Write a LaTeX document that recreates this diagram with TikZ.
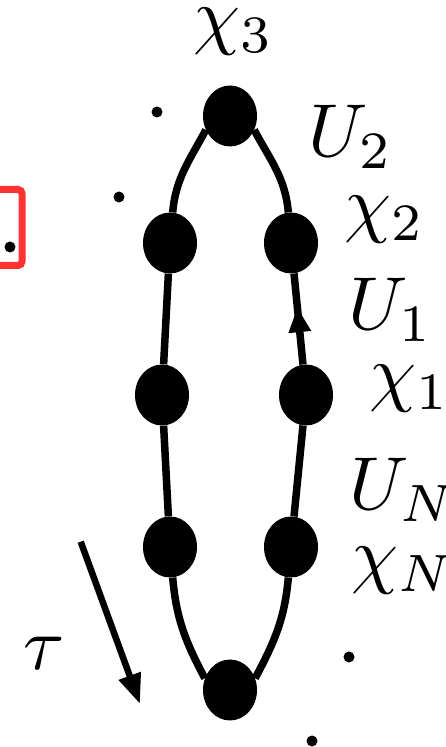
\documentclass[tikz,border=0pt]{standalone}
\usetikzlibrary{arrows.meta, positioning, shapes.geometric, decorations.markings}

\definecolor{hlred}{RGB}{255,50,50}

\begin{document}
\begin{tikzpicture}[
        x=1pt, y=1pt,
        bead/.style={ellipse, fill=black, inner sep=0pt,
                     minimum width=54pt, minimum height=61pt},
        dot/.style={circle, fill=black, inner sep=0pt, minimum size=11pt},
        lab/.style={anchor=base west, inner sep=0pt, scale=7.5, transform shape},
        ring/.style={line width=7.5pt},
        midarrow/.style={postaction={decorate}, decoration={markings,
                     mark=at position 0.63 with {\arrow{Triangle[length=25pt, width=21pt]}}}},
        arrow/.style={-{Triangle[length=30pt, width=22pt]}, line width=6.5pt}
    ]
        \useasboundingbox (0,0) rectangle (446,747);

        % beads on the loop
        \node[bead] (chi3) at (230,631) {};
        \node[bead] (chi2) at (291,504) {};
        \node[bead] (lu) at (170,504) {};
        \node[bead] (chi1) at (306,352) {};
        \node[bead] (lm) at (162,352) {};
        \node[bead] (chiN) at (291,200) {};
        \node[bead] (ll) at (170,200) {};
        \node[bead] (bot) at (230,57) {};

        \draw[ring] (chi3.-30) to[out=-62, in=95] (chi2);
        \draw[ring, midarrow] (chi1) -- (chi2);
        \draw[ring] (chi1) -- (chiN);
        \draw[ring] (chiN) to[out=-95, in=62] (bot.25);
        \draw[ring] (bot.155) to[out=118, in=-85] (ll);
        \draw[ring] (ll) -- (lm);
        \draw[ring] (lm) -- (lu);
        \draw[ring] (lu) to[out=85, in=-118] (chi3.-150);

        % labels
        \node[lab] (tchi3) at (192,706) {$\chi_3$};
        \node[lab] (tU2) at (307,590) {$U_2$};
        \node[lab] (tchi2) at (343,518) {$\chi_2$};
        \node[lab] (tU1) at (347,417) {$U_1$};
        \node[lab] (tchi1) at (368,349) {$\chi_1$};
        \node[lab] (tUN) at (348,237) {$U_N$};
        \node[lab] (tchiN) at (350,167) {$\chi_N$};
        \node[lab] (ttau) at (22,77) {$\tau$};

        % dots
        \node[dot] (d1) at (157,635) {};
        \node[dot] (d2) at (119,550) {};
        \node[dot] (d3) at (10,500) {};
        \node[dot] (d4) at (349,90) {};
        \node[dot] (d5) at (312,6) {};

        \draw[hlred, line width=7pt, rounded corners=4pt] (-10,481.5) rectangle (22,557.5);

        % imaginary time direction
        \coordinate (tauS) at (80.7,205.3);
        \coordinate (tauE) at (140,43);
        \draw[arrow] (tauS) -- (tauE);
    \end{tikzpicture}
\end{document}
